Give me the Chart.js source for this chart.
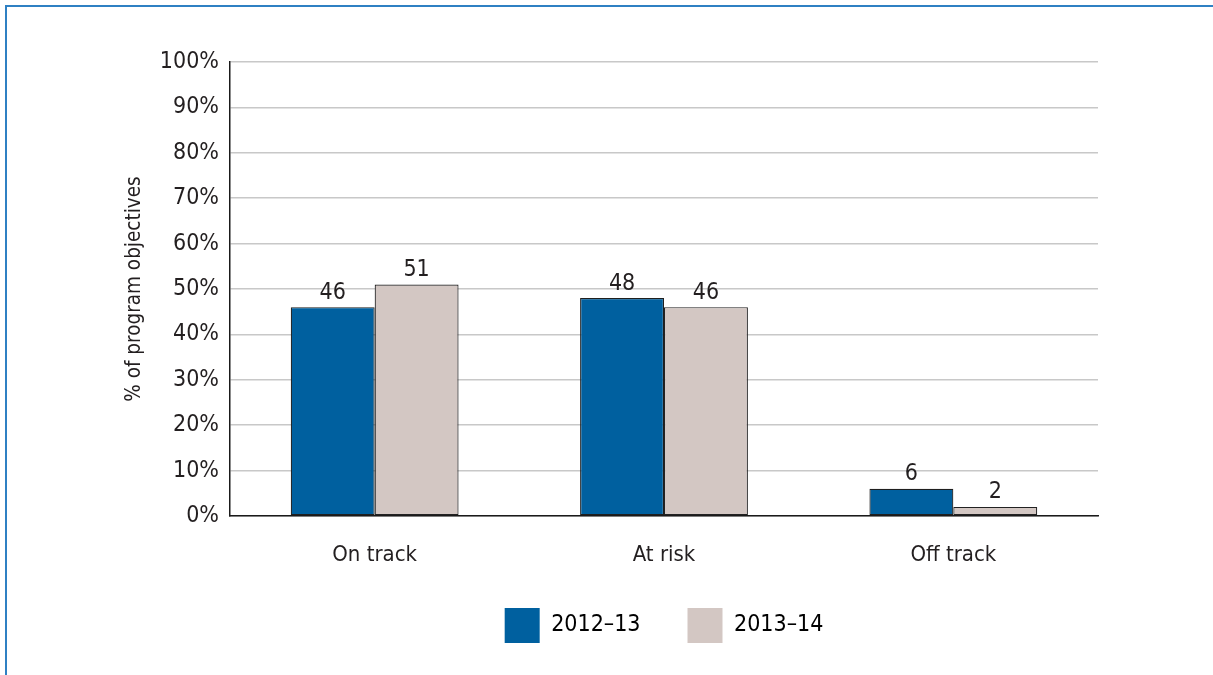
<!DOCTYPE html>
<html>
<head>
<meta charset="utf-8">
<script src="https://cdn.jsdelivr.net/npm/chart.js@4.4.0/dist/chart.umd.min.js"></script>
<style>
  html, body { margin: 0; padding: 0; background: #fff; }
  #frame { position: absolute; left: 5px; top: 5px; width: 1300px; height: 800px;
           border-top: 2px solid #2f80c3; border-left: 2px solid #2f80c3; }
  #wrap { position: absolute; left: 0; top: 0; width: 1213px; height: 675px; }
</style>
</head>
<body>
<div id="frame"></div>
<div id="wrap"><canvas id="c"></canvas></div>
<script>
const categories = ["On track", "At risk", "Off track"];
const seriesNames = ["2012\u201313", "2013\u201314"];
const values2012 = [46, 48, 6];
const values2013 = [51, 46, 2];
const yTicks = [0, 10, 20, 30, 40, 50, 60, 70, 80, 90, 100];

const FONT = "'Liberation Sans Narrow', 'DejaVu Sans Condensed', 'Arial Narrow', sans-serif";
const TEXT = "#231f20";

const valueLabels = {
  id: 'valueLabels',
  afterDatasetsDraw(chart) {
    const ctx = chart.ctx;
    ctx.save();
    ctx.font = "23px " + FONT;
    ctx.fillStyle = TEXT;
    ctx.textAlign = 'center';
    ctx.textBaseline = 'bottom';
    chart.data.datasets.forEach((ds, i) => {
      const meta = chart.getDatasetMeta(i);
      meta.data.forEach((bar, j) => {
        ctx.fillText(String(ds.data[j]), bar.x, bar.y - 3);
      });
    });
    ctx.restore();
  }
};

new Chart(document.getElementById('c'), {
  type: 'bar',
  data: {
    labels: categories,
    datasets: [
      { label: seriesNames[0], data: values2012, backgroundColor: '#00609f',
        borderColor: '#1f1f1f', borderWidth: 1.2, borderSkipped: false,
        categoryPercentage: 0.58, barPercentage: 1.0 },
      { label: seriesNames[1], data: values2013, backgroundColor: '#d3c7c3',
        borderColor: '#222222', borderWidth: 1.2, borderSkipped: false,
        categoryPercentage: 0.58, barPercentage: 1.0 }
    ]
  },
  options: {
    responsive: true,
    maintainAspectRatio: false,
    animation: false,
    devicePixelRatio: 1,
    layout: { padding: { left: 122, right: 115, top: 62, bottom: 22 } },
    plugins: {
      legend: {
        position: 'bottom',
        fullSize: false,
        labels: {
          boxWidth: 35, boxHeight: 35, padding: 47,
          color: TEXT,
          font: { family: FONT, size: 23 },
          generateLabels(chart) {
            return chart.data.datasets.map((ds, i) => ({
              text: ds.label, fillStyle: ds.backgroundColor,
              strokeStyle: ds.backgroundColor, lineWidth: 0,
              hidden: false, datasetIndex: i
            }));
          }
        }
      },
      tooltip: { enabled: false },
      title: { display: false }
    },
    scales: {
      x: {
        grid: { display: false, drawTicks: false },
        border: { display: true, color: '#1a1a1a', width: 1.5 },
        ticks: { color: TEXT, font: { family: FONT, size: 22 }, padding: 26 },
        afterFit(scale) { scale.height = 45; }
      },
      y: {
        min: 0, max: 100,
        afterBuildTicks(scale) { scale.ticks = yTicks.map(v => ({ value: v })); },
        grid: { color: '#c8c8c8', lineWidth: 1.5, drawTicks: false },
        border: { display: true, color: '#1a1a1a', width: 1.5 },
        ticks: { color: TEXT, font: { family: FONT, size: 23 }, padding: 11,
                 callback: v => v + '%' },
        title: { display: true, text: '% of program objectives', color: TEXT,
                 font: { family: FONT, size: 20.5 }, padding: 0 },
        afterFit(scale) { scale.width = 108; }
      }
    }
  },
  plugins: [valueLabels]
});
</script>
</body>
</html>
